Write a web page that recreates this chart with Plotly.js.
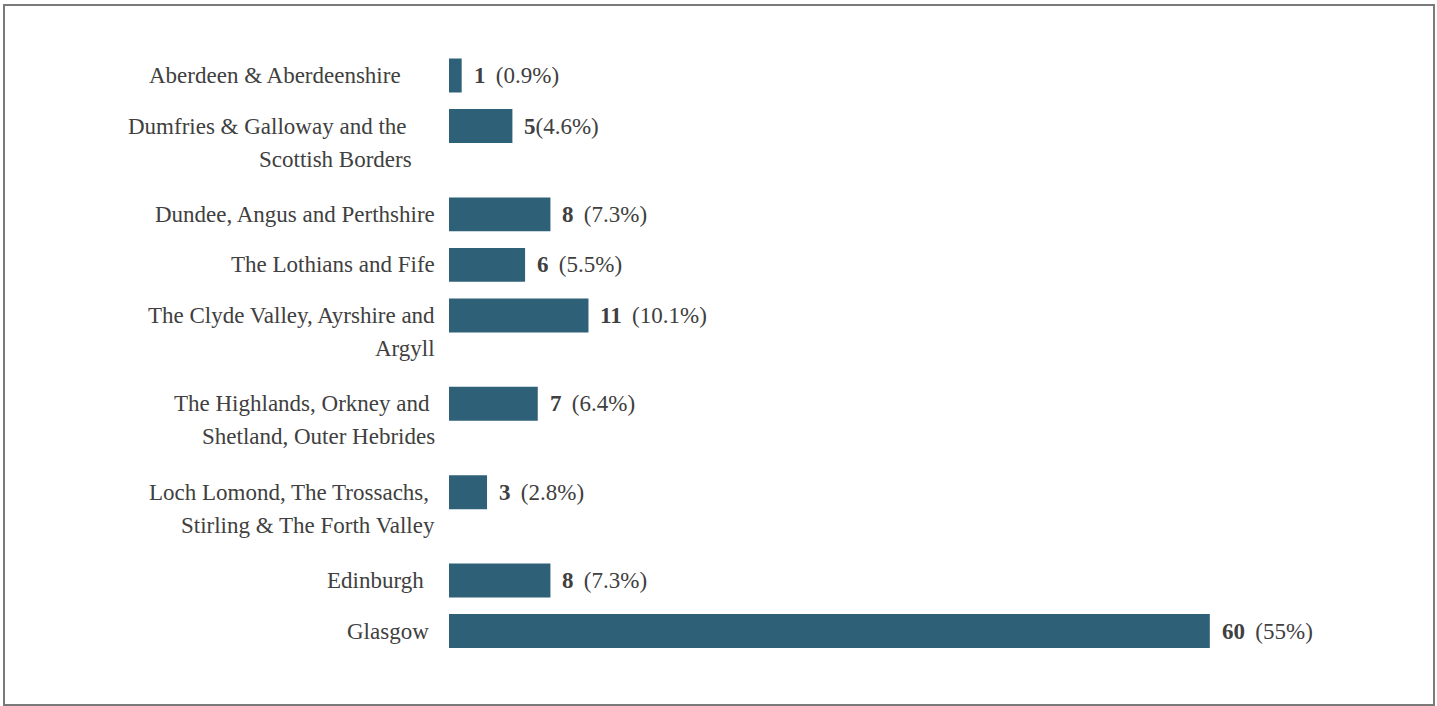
<!DOCTYPE html>
<html><head><meta charset="utf-8">
<script src="https://cdn.plot.ly/plotly-3.0.1.min.js"></script>
<style>
html,body{margin:0;padding:0;background:#fff;overflow:hidden}
#chart{width:1437px;height:706px;position:absolute;left:0;top:0}
#frame{position:absolute;left:3px;top:4px;width:1432px;height:702px;border:2px solid #7a7a7a;box-sizing:border-box;pointer-events:none}
</style></head><body>
<div id="chart"></div><div id="frame"></div>
<script>
const NB = '\u00a0';
const regions = [
  'Aberdeen & Aberdeenshire' + NB.repeat(6),
  'Dumfries & Galloway and the' + NB.repeat(5) + '\nScottish Borders' + NB.repeat(4),
  'Dundee, Angus and Perthshire',
  'The Lothians and Fife',
  'The Clyde Valley, Ayrshire and\nArgyll',
  'The Highlands, Orkney and' + NB + '\nShetland, Outer Hebrides',
  'Loch Lomond, The Trossachs,' + NB + '\nStirling & The Forth Valley',
  'Edinburgh' + NB.repeat(2),
  'Glasgow' + NB
];
const counts = [1, 5, 8, 6, 11, 7, 3, 8, 60];
const shares = ['(0.9%)', '(4.6%)', '(7.3%)', '(5.5%)', '(10.1%)', '(6.4%)', '(2.8%)', '(7.3%)', '(55%)'];
const WIDE = NB + '\u2009';
const shareSep = [WIDE, '', WIDE, WIDE, WIDE, WIDE, WIDE, WIDE, WIDE];

const FONT = {family: '"Liberation Serif", "Times New Roman", serif', size: 23, color: '#404040'};
const BAR_COLOR = '#2e6078';

// slot positions: multi-line labels take extra vertical room
const lineCounts = regions.map(r => r.split('\n').length);
const pos = [];
lineCounts.forEach((n, i) => {
  pos.push(i === 0 ? 0 : pos[i - 1] + 1 + 0.75 * (lineCounts[i - 1] - 1));
});

const annotations = [];
regions.forEach((r, i) => {
  r.split('\n').forEach((line, k) => {
    annotations.push({
      x: 0, y: pos[i], xref: 'x', yref: 'y', text: line,
      xanchor: 'right', yanchor: 'middle', align: 'right',
      xshift: -12, yshift: -33 * k, showarrow: false, font: FONT
    });
  });
  annotations.push({
    x: counts[i], y: pos[i], xref: 'x', yref: 'y',
    text: '<b>' + counts[i] + '</b>' + shareSep[i] + shares[i],
    xanchor: 'left', yanchor: 'middle', xshift: 10, showarrow: false, font: FONT
  });
});

const trace = {
  type: 'bar', orientation: 'h',
  x: counts, y: pos, width: 0.673,
  marker: {color: BAR_COLOR, line: {width: 0}},
  hoverinfo: 'skip'
};

const layout = {
  width: 1437, height: 706,
  margin: {l: 449, r: 37, t: 25, b: 26, pad: 0},
  paper_bgcolor: '#ffffff', plot_bgcolor: '#ffffff',
  showlegend: false,
  xaxis: {range: [0, 75], visible: false, showgrid: false, zeroline: false, fixedrange: true},
  yaxis: {range: [11.97, -1], visible: false, showgrid: false, zeroline: false, fixedrange: true},
  annotations: annotations,
  font: FONT
};

Plotly.newPlot('chart', [trace], layout, {staticPlot: true, displayModeBar: false});
</script>
</body></html>
